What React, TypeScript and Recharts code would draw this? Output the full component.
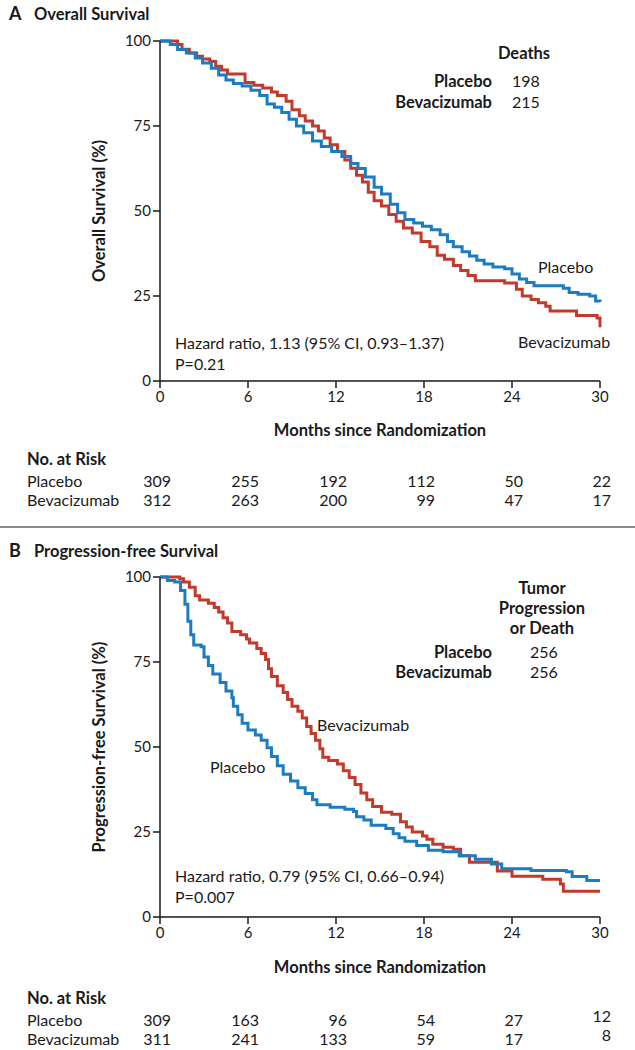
import React from 'react';
import { LineChart, Line, XAxis, YAxis } from 'recharts';

const BLUE = '#1b7cc1';
const RED = '#c23a2b';
const FONT = 'Lato, "Open Sans", sans-serif';

const monthTicks = [0, 6, 12, 18, 24, 30];
const pctTicks = [0, 25, 50, 75, 100];

// Kaplan-Meier step points (month, % surviving)
const osPlacebo = [
  { t: 0, s: 100 }, { t: 0.7, s: 99 }, { t: 1.2, s: 97.5 }, { t: 1.8, s: 96.5 }, { t: 2.4, s: 95 },
  { t: 2.9, s: 93.5 }, { t: 3.5, s: 92 }, { t: 4.0, s: 90 }, { t: 4.5, s: 88.5 }, { t: 5.0, s: 87.5 },
  { t: 5.6, s: 86.8 }, { t: 6.2, s: 85.5 }, { t: 6.8, s: 84 }, { t: 7.3, s: 81.5 }, { t: 7.8, s: 80.5 },
  { t: 8.3, s: 79 }, { t: 8.8, s: 77 }, { t: 9.3, s: 75 }, { t: 9.8, s: 73 }, { t: 10.4, s: 70.6 },
  { t: 11.0, s: 69 }, { t: 11.7, s: 67.5 }, { t: 12.4, s: 66 }, { t: 13.0, s: 64 }, { t: 13.5, s: 62.5 },
  { t: 14.0, s: 60 }, { t: 14.6, s: 57 }, { t: 15.1, s: 55 }, { t: 15.7, s: 52 }, { t: 16.2, s: 49.5 },
  { t: 16.7, s: 47.5 }, { t: 17.3, s: 46.5 }, { t: 17.9, s: 45.5 }, { t: 18.5, s: 44.5 }, { t: 19.1, s: 43 },
  { t: 19.6, s: 41 }, { t: 20.0, s: 39.5 }, { t: 20.6, s: 38 }, { t: 21.1, s: 36.8 }, { t: 21.6, s: 35.5 },
  { t: 22.1, s: 34.4 }, { t: 22.7, s: 33.5 }, { t: 23.5, s: 33 }, { t: 24.0, s: 31.5 }, { t: 24.5, s: 30 },
  { t: 25.0, s: 29 }, { t: 25.5, s: 28 }, { t: 27.5, s: 27.3 }, { t: 27.9, s: 26 }, { t: 28.5, s: 25.5 },
  { t: 29.3, s: 25 }, { t: 29.7, s: 23.5 }, { t: 30, s: 23.2 },
];

const osBev = [
  { t: 0, s: 100 }, { t: 1.2, s: 99 }, { t: 1.5, s: 97.6 }, { t: 2.0, s: 96.5 }, { t: 2.5, s: 95.5 },
  { t: 2.9, s: 94.7 }, { t: 3.4, s: 94 }, { t: 3.8, s: 92.6 }, { t: 4.2, s: 91.5 }, { t: 4.6, s: 90.3 },
  { t: 5.8, s: 87.8 }, { t: 6.4, s: 87 }, { t: 7.0, s: 86.2 }, { t: 7.6, s: 85 }, { t: 8.0, s: 84 },
  { t: 8.6, s: 82.3 }, { t: 9.0, s: 79.8 }, { t: 9.5, s: 78 }, { t: 9.9, s: 76.5 }, { t: 10.4, s: 75 },
  { t: 10.8, s: 73.5 }, { t: 11.2, s: 71.5 }, { t: 11.6, s: 69.5 }, { t: 12.1, s: 67.5 }, { t: 12.6, s: 65 },
  { t: 13.0, s: 62.6 }, { t: 13.4, s: 60.5 }, { t: 13.8, s: 58.5 }, { t: 14.2, s: 55.5 }, { t: 14.6, s: 53 },
  { t: 15.1, s: 51.5 }, { t: 15.6, s: 49 }, { t: 16.1, s: 47 }, { t: 16.6, s: 45 }, { t: 17.2, s: 43.5 },
  { t: 17.8, s: 41 }, { t: 18.4, s: 39.5 }, { t: 18.9, s: 37 }, { t: 19.4, s: 35.8 }, { t: 20.0, s: 34 },
  { t: 20.5, s: 32.5 }, { t: 21.0, s: 31 }, { t: 21.5, s: 29.5 }, { t: 23.5, s: 28.8 }, { t: 24.3, s: 27 },
  { t: 24.7, s: 25 }, { t: 25.3, s: 24 }, { t: 25.8, s: 23 }, { t: 26.3, s: 22 }, { t: 26.6, s: 20.6 },
  { t: 28.4, s: 19.3 }, { t: 29.8, s: 18.5 }, { t: 30, s: 15.8 },
];

const pfsPlacebo = [
  { t: 0, s: 100 }, { t: 0.5, s: 99 }, { t: 1.0, s: 98.5 }, { t: 1.4, s: 96 }, { t: 1.7, s: 92 },
  { t: 1.9, s: 87 }, { t: 2.1, s: 83 }, { t: 2.3, s: 80 }, { t: 2.8, s: 79.5 }, { t: 3.0, s: 76.5 },
  { t: 3.3, s: 74 }, { t: 3.6, s: 71.5 }, { t: 4.1, s: 69 }, { t: 4.5, s: 66.5 }, { t: 4.9, s: 64.5 },
  { t: 5.0, s: 62 }, { t: 5.3, s: 59.5 }, { t: 5.6, s: 57 }, { t: 6.0, s: 55 }, { t: 6.5, s: 53.5 },
  { t: 6.9, s: 52 }, { t: 7.3, s: 49.8 }, { t: 7.6, s: 47.2 }, { t: 8.0, s: 44.5 }, { t: 8.4, s: 42 },
  { t: 8.9, s: 40 }, { t: 9.4, s: 38 }, { t: 9.9, s: 36.3 }, { t: 10.4, s: 34.5 }, { t: 10.7, s: 33 },
  { t: 11.6, s: 32.3 }, { t: 12.6, s: 31.7 }, { t: 13.2, s: 31 }, { t: 13.4, s: 29.5 }, { t: 13.9, s: 28.5 },
  { t: 14.4, s: 27 }, { t: 15.4, s: 26 }, { t: 15.9, s: 24.5 }, { t: 16.3, s: 23.3 }, { t: 16.7, s: 22.3 },
  { t: 17.5, s: 21 }, { t: 18.3, s: 19.6 }, { t: 19.3, s: 19.2 }, { t: 20.4, s: 18 }, { t: 21.5, s: 17 },
  { t: 22.6, s: 15.6 }, { t: 23.3, s: 14.2 }, { t: 25.3, s: 13.7 }, { t: 27.7, s: 13.3 }, { t: 28.1, s: 11.9 },
  { t: 29.1, s: 10.7 }, { t: 30, s: 10.7 },
];

const pfsBev = [
  { t: 0, s: 100 }, { t: 1.35, s: 99.5 }, { t: 1.6, s: 98.5 }, { t: 2.0, s: 97 }, { t: 2.4, s: 94.5 },
  { t: 2.7, s: 93.2 }, { t: 3.3, s: 92.3 }, { t: 3.7, s: 91 }, { t: 4.0, s: 89.7 }, { t: 4.3, s: 88 },
  { t: 4.6, s: 86.5 }, { t: 4.9, s: 84 }, { t: 5.5, s: 83 }, { t: 5.9, s: 81.8 }, { t: 6.1, s: 80.6 },
  { t: 6.6, s: 79 }, { t: 6.9, s: 77.5 }, { t: 7.2, s: 75.7 }, { t: 7.4, s: 73 }, { t: 7.6, s: 70.7 },
  { t: 8.0, s: 68 }, { t: 8.4, s: 66 }, { t: 8.7, s: 64 }, { t: 9.0, s: 62 }, { t: 9.4, s: 60.5 },
  { t: 9.7, s: 58.5 }, { t: 10.0, s: 56 }, { t: 10.3, s: 54 }, { t: 10.6, s: 52 }, { t: 10.9, s: 49.5 },
  { t: 11.1, s: 47 }, { t: 11.5, s: 46 }, { t: 12.1, s: 45 }, { t: 12.5, s: 43 }, { t: 12.9, s: 41 },
  { t: 13.3, s: 39 }, { t: 13.7, s: 36.5 }, { t: 14.1, s: 34.5 }, { t: 14.5, s: 32.5 }, { t: 15.1, s: 30.8 },
  { t: 15.8, s: 30.2 }, { t: 16.4, s: 28 }, { t: 16.8, s: 26.5 }, { t: 17.2, s: 25 }, { t: 17.9, s: 23.8 },
  { t: 18.2, s: 22.9 }, { t: 18.6, s: 21.4 }, { t: 19.3, s: 20.5 }, { t: 20.0, s: 19.9 }, { t: 20.5, s: 18 },
  { t: 21.1, s: 16.1 }, { t: 23.0, s: 13.5 }, { t: 24.0, s: 12 }, { t: 26.1, s: 11.1 }, { t: 27.3, s: 9.7 },
  { t: 27.5, s: 7.6 }, { t: 30, s: 7.6 },
];

const osRiskPlacebo = [309, 255, 192, 112, 50, 22];
const osRiskBev = [312, 263, 200, 99, 47, 17];
const pfsRiskPlacebo = [309, 163, 96, 54, 27, 12];
const pfsRiskBev = [311, 241, 133, 59, 17, 8];

const PLOT_LEFT = 160;
const PLOT_RIGHT = 600;
const xPos = (m: number) => PLOT_LEFT + (m / 30) * (PLOT_RIGHT - PLOT_LEFT);

const axisStroke = { stroke: '#1a1a1a', strokeWidth: 1.5 };
const tickText = { fontSize: 15, fill: '#1a1a1a', fontFamily: FONT };

function KMChart({ top, placebo, bev }: { top: number; placebo: any[]; bev: any[] }) {
  return (
    <div style={{ position: 'absolute', left: 0, top }}>
      <LineChart width={635} height={430} margin={{ top: 41, right: 35, bottom: 0, left: 0 }}>
        <XAxis
          type="number"
          dataKey="t"
          domain={[0, 30]}
          ticks={monthTicks}
          height={49}
          axisLine={axisStroke}
          tickLine={axisStroke}
          tickSize={7}
          tickMargin={3}
          tick={tickText}
          allowDuplicatedCategory={false}
        />
        <YAxis
          type="number"
          domain={[0, 100]}
          ticks={pctTicks}
          width={160}
          axisLine={axisStroke}
          tickLine={axisStroke}
          tickSize={7}
          tickMargin={2}
          tick={tickText}
        />
        <Line data={bev} dataKey="s" type="stepAfter" stroke={RED} strokeWidth={3} dot={false} isAnimationActive={false} />
        <Line data={placebo} dataKey="s" type="stepAfter" stroke={BLUE} strokeWidth={3} dot={false} isAnimationActive={false} />
      </LineChart>
    </div>
  );
}

function RiskRows({ y, placebo, bev, lastShift = 0 }: { y: number; placebo: number[]; bev: number[]; lastShift?: number }) {
  return (
    <g fontFamily={FONT} fontSize={16} fill="#1a1a1a">
      <text x={27} y={y} fontWeight="bold" fontSize={16.5}>No. at Risk</text>
      <text x={27} y={y + 22}>Placebo</text>
      <text x={27} y={y + 41}>Bevacizumab</text>
      {monthTicks.map((m, i) => (
        <text key={'p' + m} x={xPos(m) + 11} y={y + 22 - (i === 5 ? lastShift : 0)} textAnchor="end">{placebo[i]}</text>
      ))}
      {monthTicks.map((m, i) => (
        <text key={'b' + m} x={xPos(m) + 11} y={y + 41 - (i === 5 ? lastShift : 0)} textAnchor="end">{bev[i]}</text>
      ))}
    </g>
  );
}

export default function App() {
  return (
    <div style={{ position: 'absolute', left: 0, top: 0, width: 635, height: 1050, background: '#fff' }}>
      <KMChart top={0} placebo={osPlacebo} bev={osBev} />
      <KMChart top={536} placebo={pfsPlacebo} bev={pfsBev} />
      <svg width={635} height={1050} style={{ position: 'absolute', left: 0, top: 0, pointerEvents: 'none' }}>
        <g fontFamily={FONT} fill="#1a1a1a">
          {/* Panel A */}
          <text x={9} y={20} fontSize={18} fontWeight="bold">A</text>
          <text x={34} y={20} fontSize={16.5} fontWeight="bold">Overall Survival</text>
          <text x={524} y={59} fontSize={16.5} fontWeight="bold" textAnchor="middle">Deaths</text>
          <text x={492} y={87} fontSize={16.5} fontWeight="bold" textAnchor="end">Placebo</text>
          <text x={512} y={87} fontSize={16}>198</text>
          <text x={492} y={108} fontSize={16.5} fontWeight="bold" textAnchor="end">Bevacizumab</text>
          <text x={512} y={108} fontSize={16}>215</text>
          <text x={538} y={273} fontSize={16}>Placebo</text>
          <text x={518} y={348} fontSize={16}>Bevacizumab</text>
          <text x={175} y={349} fontSize={16}>Hazard ratio, 1.13 (95% CI, 0.93–1.37)</text>
          <text x={175} y={370} fontSize={16}>P=0.21</text>
          <text x={105} y={211} fontSize={16.5} fontWeight="bold" textAnchor="middle" transform="rotate(-90 105 211)">Overall Survival (%)</text>
          <text x={380} y={436} fontSize={16.5} fontWeight="bold" textAnchor="middle">Months since Randomization</text>

          {/* Panel B */}
          <text x={9} y={557} fontSize={18} fontWeight="bold">B</text>
          <text x={34} y={557} fontSize={16.5} fontWeight="bold">Progression-free Survival</text>
          <text x={542} y={594} fontSize={16.5} fontWeight="bold" textAnchor="middle">Tumor</text>
          <text x={542} y={614} fontSize={16.5} fontWeight="bold" textAnchor="middle">Progression</text>
          <text x={542} y={634} fontSize={16.5} fontWeight="bold" textAnchor="middle">or Death</text>
          <text x={492} y={658} fontSize={16.5} fontWeight="bold" textAnchor="end">Placebo</text>
          <text x={530} y={658} fontSize={16}>256</text>
          <text x={492} y={678} fontSize={16.5} fontWeight="bold" textAnchor="end">Bevacizumab</text>
          <text x={530} y={678} fontSize={16}>256</text>
          <text x={317} y={731} fontSize={16}>Bevacizumab</text>
          <text x={210} y={773} fontSize={16}>Placebo</text>
          <text x={175} y={882} fontSize={16}>Hazard ratio, 0.79 (95% CI, 0.66–0.94)</text>
          <text x={175} y={903} fontSize={16}>P=0.007</text>
          <text x={105} y={747} fontSize={16.5} fontWeight="bold" textAnchor="middle" transform="rotate(-90 105 747)">Progression-free Survival (%)</text>
          <text x={380} y={973} fontSize={16.5} fontWeight="bold" textAnchor="middle">Months since Randomization</text>
        </g>
        <RiskRows y={465} placebo={osRiskPlacebo} bev={osRiskBev} />
        <RiskRows y={1004} placebo={pfsRiskPlacebo} bev={pfsRiskBev} lastShift={4} />
        <line x1={0} x2={635} y1={527} y2={527} stroke="#8a8a8a" strokeWidth={2} />
      </svg>
    </div>
  );
}
